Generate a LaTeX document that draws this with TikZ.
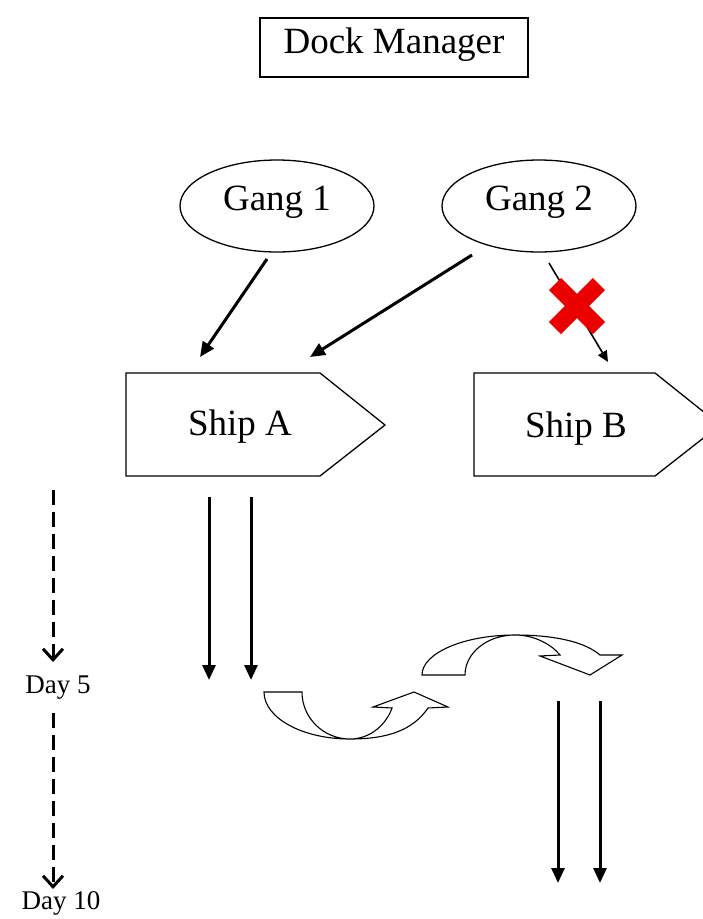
\documentclass[tikz,border=0pt]{standalone}
\usepackage{fontspec}
\setmainfont{Liberation Serif}
\usetikzlibrary{arrows.meta,shapes.geometric}
\begin{document}
\begin{tikzpicture}[x=1pt,y=-1pt,
  boxline/.style={draw=black,line width=1.3pt},
  gangshape/.style={ellipse,draw=black,line width=1.3pt,minimum width=194pt,minimum height=92pt,inner sep=0pt},
  bigtext/.style={font=\fontsize{37}{40}\selectfont,inner sep=0pt},
  daytext/.style={font=\fontsize{27}{30}\selectfont,inner sep=0pt},
  thickarrow/.style={line width=3pt,-{Triangle[length=15pt,width=13pt]}},
  thinarrow/.style={line width=1.6pt,-{Triangle[length=11pt,width=10pt]}},
  dasharrow/.style={line width=3pt,dash pattern=on 15pt off 7pt,-{Straight Barb[length=11pt,width=20pt,line width=3pt]}},
  curvedarrow/.style={draw=black,line width=1.1pt,line join=miter,fill=white},
  crossmark/.style={draw={rgb,255:red,235;green,0;blue,0},line width=17pt},
]
\useasboundingbox (0,0) rectangle (703,919);
\clip (0,0) rectangle (703,919);

% Dock manager
\node[boxline,minimum width=268pt,minimum height=59pt,inner sep=0pt] (dock) at (394,47.5) {};
\node[bigtext,anchor=base] (docktext) at (394,53) {Dock Manager};

% Gangs
\node[gangshape] (g1) at (277,206) {};
\node[bigtext,anchor=base] (g1text) at (277,210) {Gang 1};
\node[gangshape] (g2) at (539,206) {};
\node[bigtext,anchor=base] (g2text) at (539,210) {Gang 2};

% Ships
\draw[boxline] (126,373) -- (320,373) -- (385,425) -- (320,476) -- (126,476) -- cycle;
\coordinate (shipA) at (240,435);
\node[bigtext,anchor=base] (shipAtext) at (shipA) {Ship A};
\draw[boxline] (474,373) -- (655,373) -- (720,425) -- (655,476) -- (474,476) -- cycle;
\coordinate (shipB) at (576,437);
\node[bigtext,anchor=base] (shipBtext) at (shipB) {Ship B};

% Gang arrows
\coordinate (a1s) at (267,259); \coordinate (a1e) at (200,357);
\coordinate (a2s) at (472,255); \coordinate (a2e) at (310,357);
\coordinate (a3s) at (549,263); \coordinate (a3e) at (608,362);
\draw[thickarrow] (a1s) -- (a1e);
\draw[thickarrow] (a2s) -- (a2e);
\draw[thinarrow] (a3s) -- (a3e);

% red cross
\coordinate (xc) at (577,306);
\draw[crossmark] ([shift={(-22,-22)}]xc) -- ([shift={(22,22)}]xc);
\draw[crossmark] ([shift={(-22,22)}]xc) -- ([shift={(22,-22)}]xc);

% work arrows under Ship A
\coordinate (wa1s) at (209,497); \coordinate (wa1e) at (209,680);
\coordinate (wa2s) at (251,497); \coordinate (wa2e) at (251,680);
\draw[thickarrow] (wa1s) -- (wa1e);
\draw[thickarrow] (wa2s) -- (wa2e);

% work arrows under Ship B
\coordinate (wb1s) at (558,701); \coordinate (wb1e) at (558,883);
\coordinate (wb2s) at (600,701); \coordinate (wb2e) at (600,883);
\draw[thickarrow] (wb1s) -- (wb1e);
\draw[thickarrow] (wb2s) -- (wb2e);

% timeline
\coordinate (t1s) at (53,490); \coordinate (t1e) at (53,662);
\coordinate (t2s) at (53,713); \coordinate (t2e) at (53,889);
\draw[dasharrow] (t1s) -- (t1e);
\draw[dasharrow] (t2s) -- (t2e);
\node[daytext,anchor=base] (day5) at (58,693) {Day 5};
\node[daytext,anchor=base] (day10) at (61,909) {Day 10};

% curved arrows
\draw[curvedarrow] (264,692) -- (302,692)
  .. controls (302,718) and (323.5,739) .. (350,739)
  .. controls (370,739) and (386,725) .. (392,708)
  -- (373,707) -- (414,692) -- (448,707) -- (428,708)
  .. controls (413,730) and (388,739) .. (350,739)
  .. controls (302.5,739) and (264,718) .. (264,692) -- cycle;
\draw[curvedarrow] (422,675) -- (465,675)
  .. controls (465,653) and (487,635) .. (515,635)
  .. controls (535,635) and (552,645) .. (560,655)
  -- (540,656) -- (590,675) -- (622,655) -- (600,655)
  .. controls (585,642) and (555,635) .. (515,635)
  .. controls (464,635) and (422,653) .. (422,675) -- cycle;
\end{tikzpicture}
\end{document}
